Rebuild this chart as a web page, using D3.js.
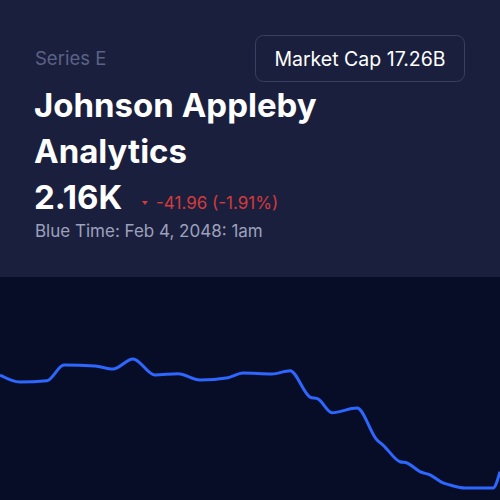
<!DOCTYPE html>
<html>
<head>
<meta charset="utf-8">
<script src="https://cdn.jsdelivr.net/npm/d3@7"></script>
<style>
  html, body { margin: 0; padding: 0; background: #070d26; }
  svg { display: block; font-family: Inter, "Noto Sans", sans-serif; }
</style>
</head>
<body>
<div id="vis"></div>
<script>
const width = 500;
const height = 500;

// time steps (minutes from window start) and prices
const times = [0, 20, 47, 64, 95, 113, 133, 155, 178, 200, 228, 243, 272, 290, 310, 318,
  332, 357, 377, 383, 400, 407, 420, 430, 443, 450, 465, 493, 500];
const prices = [2229.4, 2223.3, 2224.4, 2238.1, 2237.3, 2234.6, 2243.4, 2229.4, 2230.5, 2225,
  2227, 2231.1, 2230.3, 2233.1, 2210.1, 2208.4, 2196.4, 2200.5, 2172.5, 2168.1, 2153.5,
  2152.4, 2144.8, 2141.9, 2134.9, 2133.1, 2130.5, 2130.5, 2144.8];

const seriesName = "Series E";
const titleLines = ["Johnson Appleby", "Analytics"];
const lastPrice = "2.16K";
const change = "-41.96 (-1.91%)";
const timeLabel = "Blue Time: Feb 4, 2048: 1am";
const marketCap = "Market Cap 17.26B";

const data = times.map((t, i) => ({ t, v: prices[i] }));

const svg = d3.select("#vis")
  .append("svg")
  .attr("width", width)
  .attr("height", height);

// header panel
const headerH = 277;
svg.append("rect")
  .attr("width", width)
  .attr("height", headerH)
  .attr("fill", "#1b1f3e");

svg.append("rect")
  .attr("y", headerH)
  .attr("width", width)
  .attr("height", height - headerH)
  .attr("fill", "#070d26");

svg.append("text")
  .attr("x", 35)
  .attr("y", 65)
  .attr("font-size", 18.5)
  .attr("fill", "#5c6286")
  .text(seriesName);

svg.selectAll("text.title")
  .data(titleLines)
  .enter()
  .append("text")
  .attr("class", "title")
  .attr("x", 34)
  .attr("y", (d, i) => 117 + i * 46)
  .attr("font-size", 33)
  .attr("font-weight", 700)
  .attr("fill", "#ffffff")
  .text(d => d);

svg.append("text")
  .attr("x", 34)
  .attr("y", 209)
  .attr("font-size", 33)
  .attr("font-weight", 700)
  .attr("fill", "#ffffff")
  .text(lastPrice);

svg.append("path")
  .attr("d", "M142,201 L148,201 L145,205 Z")
  .attr("fill", "#d43b3b");

svg.append("text")
  .attr("x", 156)
  .attr("y", 209)
  .attr("font-size", 17)
  .attr("fill", "#d43b3b")
  .text(change);

svg.append("text")
  .attr("x", 35)
  .attr("y", 237)
  .attr("font-size", 17)
  .attr("fill", "#9ca1bb")
  .text(timeLabel);

// market cap pill
svg.append("rect")
  .attr("x", 255.5)
  .attr("y", 35.5)
  .attr("width", 209)
  .attr("height", 46)
  .attr("rx", 8)
  .attr("fill", "#1b1f3e")
  .attr("stroke", "#3b4060")
  .attr("stroke-width", 1);

svg.append("text")
  .attr("x", 360)
  .attr("y", 66)
  .attr("text-anchor", "middle")
  .attr("font-size", 19.5)
  .attr("fill", "#ffffff")
  .text(marketCap);

// price line
const x = d3.scaleLinear().domain([0, 500]).range([0, width]);
const y = d3.scaleLinear().domain([2120, 2260]).range([500, 340]);

const line = d3.line()
  .x(d => x(d.t))
  .y(d => y(d.v))
  .curve(d3.curveMonotoneX);

svg.append("path")
  .datum(data)
  .attr("d", line)
  .attr("fill", "none")
  .attr("stroke", "#2e67ff")
  .attr("stroke-width", 3)
  .attr("stroke-linejoin", "round");
</script>
</body>
</html>
